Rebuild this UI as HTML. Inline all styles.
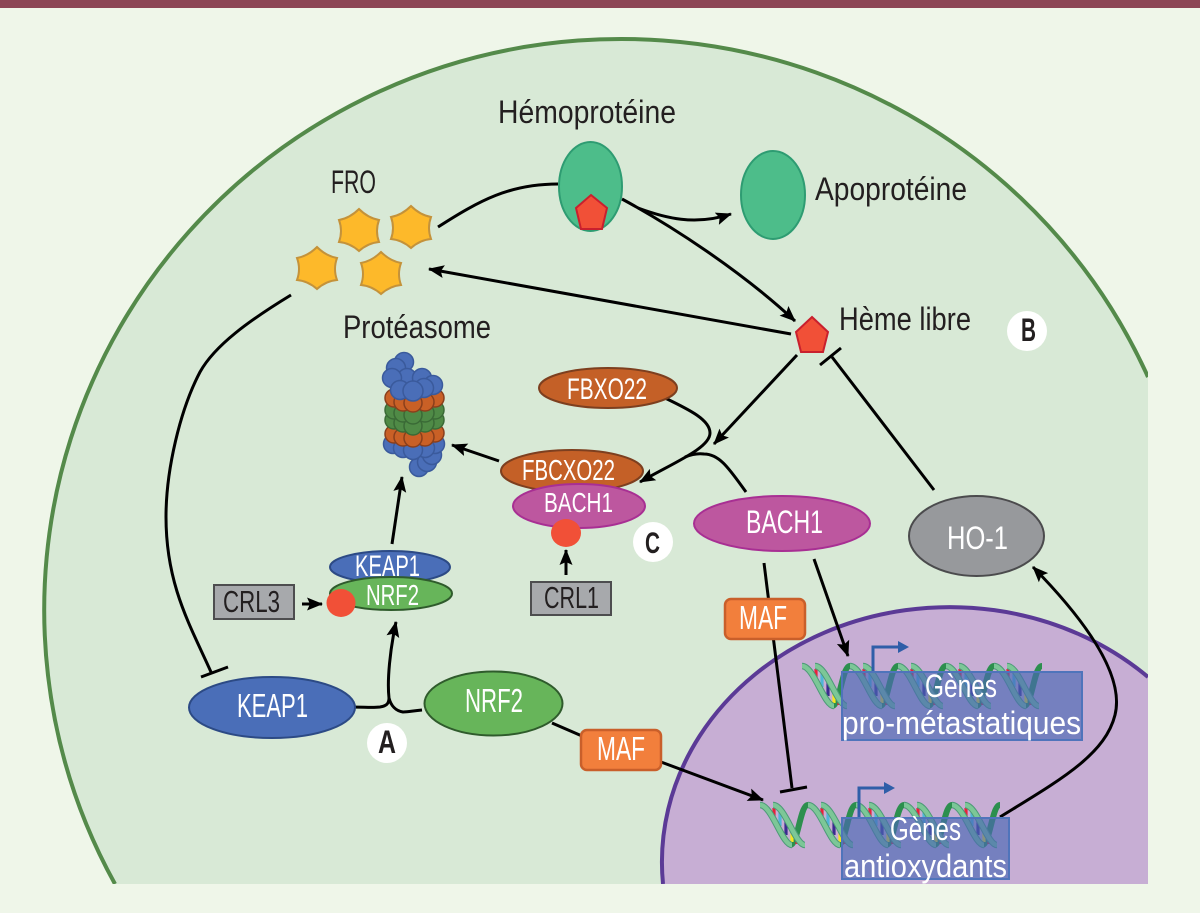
<!DOCTYPE html>
<html lang="fr">
<head>
<meta charset="utf-8">
<title>Hème, NRF2 et BACH1</title>
<style>
html,body{margin:0;padding:0;background:#eff6e9;width:1200px;height:913px;overflow:hidden;}
svg{display:block;overflow:hidden;}
text{font-family:"Liberation Sans",sans-serif;}
.l{font-size:32px;fill:#231f20;}
.w{fill:#fff;}
.b{font-weight:bold;fill:#231f20;font-size:32px;}
.c{fill:none;stroke:#000;stroke-width:3;}
</style>
</head>
<body>
<svg width="1200" height="913" viewBox="0 0 1200 913" xmlns="http://www.w3.org/2000/svg">
<defs>
<clipPath id="clip"><rect x="0" y="0" width="1148" height="884"/></clipPath>
<marker id="ar" markerUnits="userSpaceOnUse" markerWidth="17" markerHeight="15" viewBox="0 0 17 15" refX="15" refY="7.5" orient="auto">
<path d="M0 1 L16 7.5 L0 14 L3 7.5Z" fill="#000"/>
</marker>
<path id="star" d="M0 -21 Q9 -12 20 -10 Q16 1 20 12 Q9 13 0 21 Q-9 13 -20 12 Q-16 1 -20 -10 Q-9 -12 0 -21Z" fill="#fdb92a" stroke="#c4923a" stroke-width="2"/>
<g id="unit">
<path d="M30 40 C38 40 40 0 48 0" fill="none" stroke="#2c8f4e" stroke-width="6"/>
<g stroke-width="3.2">
<line x1="14" y1="3" x2="14" y2="12" stroke="#e8213a"/>
<line x1="20" y1="5" x2="20" y2="21" stroke="#4fb6d8"/>
<line x1="26" y1="11" x2="26" y2="30" stroke="#3b2c8f"/>
<line x1="32" y1="20" x2="32" y2="37" stroke="#f6e620"/>
<line x1="37" y1="31" x2="37" y2="39" stroke="#e8213a"/>
</g>
<path d="M0 0 C12 0 22 40 32 40" fill="none" stroke="#4d9a78" stroke-width="6.5"/>
<path d="M0 0 C12 0 22 40 32 40" fill="none" stroke="#7cc797" stroke-width="4.5"/>
<path d="M13 0 C25 0 35 40 45 40" fill="none" stroke="#4d9a78" stroke-width="6.5"/>
<path d="M13 0 C25 0 35 40 45 40" fill="none" stroke="#7cc797" stroke-width="4.5"/>
</g>
</defs>

<rect width="1200" height="913" fill="#eff6e9"/>
<rect width="1200" height="8" fill="#8c4655"/>

<g clip-path="url(#clip)">
<path d="M115 884 A577 571 0 1 1 1148 377 V884 Z" fill="#d8e9d6"/>
<path d="M115 884 A577 571 0 1 1 1148 377" fill="none" stroke="#548a4a" stroke-width="4"/>
<path d="M663 884 A288 255 0 0 1 1148 677 V884 Z" fill="#c7aed4"/>
<path d="M663 884 A288 255 0 0 1 1148 677" fill="none" stroke="#5b3a96" stroke-width="4"/>
</g>

<!-- connectors -->
<path class="c" d="M438 227 C480 200 510 184 558 184"/>
<path class="c" d="M622 199 C670 225 740 270 795 321" marker-end="url(#ar)"/>
<path class="c" d="M638 208 C665 218 695 226 731 214" marker-end="url(#ar)"/>
<path class="c" d="M791 334 L429 269" marker-end="url(#ar)"/>
<path class="c" d="M291 295 C250 320 215 345 200 372 C180 410 166 470 166 517 C166 585 190 625 211 672"/>
<path class="c" d="M201 677 L228 667"/>
<path class="c" d="M797 355 L714 444" marker-end="url(#ar)"/>
<path class="c" d="M665 398 C690 410 710 420 710 433 C710 448 675 462 640 482" marker-end="url(#ar)"/>
<path class="c" d="M746 492 C730 470 720 454 704 454 C697 453 690 455 685 457"/>
<path class="c" d="M934 490 L832 357"/>
<path class="c" d="M820 365 L841 348"/>
<path class="c" d="M814 559 L848 656" marker-end="url(#ar)"/>
<path class="c" d="M764 563 L792 788"/>
<path class="c" d="M780 792 L807 787"/>
<path class="c" d="M499 461 L452 445" marker-end="url(#ar)"/>
<path class="c" d="M392 544 L402 477" marker-end="url(#ar)"/>
<path class="c" d="M566 575 L566 550" marker-end="url(#ar)"/>
<path class="c" d="M302 604 L322 604" marker-end="url(#ar)"/>
<path class="c" d="M352 707 C365 707 372 708 380 707 C386 706 389 704 389 698 C387 680 390 650 396 622" marker-end="url(#ar)"/>
<path class="c" d="M422 710 C412 711 408 712 403 712 C396 711 391 706 389 698"/>
<path class="c" d="M552 723 L582 736"/>
<path class="c" d="M661 762 L763 800" marker-end="url(#ar)"/>
<path class="c" d="M1000 817 C1060 780 1105 755 1115 715 C1125 675 1085 620 1033 567" marker-end="url(#ar)"/>

<!-- hémoprotéine -->
<ellipse cx="590.5" cy="186.5" rx="31.5" ry="44.5" fill="#4dbd8a" stroke="#2e9c72" stroke-width="2"/>
<polygon points="591,195 607,208 602,229 581,229 576,208" fill="#f15037" stroke="#c9202e" stroke-width="2"/>
<ellipse cx="773" cy="195" rx="32" ry="44" fill="#4dbd8a" stroke="#2e9c72" stroke-width="2"/>
<polygon points="812,317 828,332 823,352 801,352 796,332" fill="#f15037" stroke="#c9202e" stroke-width="2"/>

<!-- FRO -->
<use href="#star" x="359" y="230"/>
<use href="#star" x="411" y="227"/>
<use href="#star" x="317" y="268"/>
<use href="#star" x="381" y="273"/>

<!-- proteasome -->
<g fill="#4a6eb8" stroke="#3a5a9c" stroke-width="1.5">
<circle cx="419" cy="467" r="9.5"/><circle cx="427" cy="462" r="9.5"/><circle cx="432" cy="455" r="9.5"/>
<circle cx="393" cy="444" r="9.5"/><circle cx="435" cy="444" r="9.5"/><circle cx="403" cy="448" r="9.5"/><circle cx="425" cy="448" r="9.5"/><circle cx="413" cy="450" r="9.5"/>
</g>
<g fill="#c96026" stroke="#8a3f1c" stroke-width="1.5">
<circle cx="394" cy="434" r="9"/><circle cx="435" cy="433" r="9"/><circle cx="403" cy="437" r="9"/><circle cx="425" cy="437" r="9"/><circle cx="413" cy="438" r="9"/>
</g>
<g fill="#4f8a46" stroke="#3a6a36" stroke-width="1.5">
<circle cx="394" cy="420" r="9"/><circle cx="435" cy="420" r="9"/><circle cx="403" cy="423" r="9"/><circle cx="425" cy="423" r="9"/><circle cx="413" cy="426" r="9"/>
<circle cx="394" cy="410" r="9"/><circle cx="435" cy="410" r="9"/><circle cx="403" cy="413" r="9"/><circle cx="425" cy="413" r="9"/><circle cx="413" cy="415" r="9"/>
</g>
<g fill="#c96026" stroke="#8a3f1c" stroke-width="1.5">
<circle cx="394" cy="398" r="9"/><circle cx="435" cy="398" r="9"/><circle cx="403" cy="402" r="9"/><circle cx="425" cy="402" r="9"/><circle cx="413" cy="403" r="9"/>
</g>
<g fill="#4a6eb8" stroke="#3a5a9c" stroke-width="1.5">
<circle cx="404" cy="362" r="9.5"/><circle cx="396" cy="368" r="9.5"/><circle cx="407" cy="378" r="9.5"/><circle cx="392" cy="378" r="9.5"/>
<circle cx="422" cy="378" r="9.5"/><circle cx="433" cy="385" r="9.5"/><circle cx="424" cy="388" r="9.5"/><circle cx="400" cy="390" r="9.5"/><circle cx="413" cy="391" r="10"/>
</g>

<!-- DNA -->
<g>
<use href="#unit" x="802" y="666"/><use href="#unit" x="850" y="666"/><use href="#unit" x="898" y="666"/><use href="#unit" x="946" y="666"/><use href="#unit" x="994" y="666"/>
<use href="#unit" x="760" y="805"/><use href="#unit" x="808" y="805"/><use href="#unit" x="856" y="805"/><use href="#unit" x="904" y="805"/><use href="#unit" x="952" y="805"/>
</g>
<path d="M873 673 V647 H898" fill="none" stroke="#2f5ea8" stroke-width="3"/>
<polygon points="898,641 909,647 898,653" fill="#2f5ea8"/>
<path d="M859 817 V788 H884" fill="none" stroke="#2f5ea8" stroke-width="3"/>
<polygon points="884,782 895,788 884,794" fill="#2f5ea8"/>
<rect x="842" y="672" width="240" height="68" fill="rgba(73,103,180,.65)" stroke="#4f74bb" stroke-width="2"/>
<rect x="842" y="818" width="167" height="61" fill="rgba(73,103,180,.65)" stroke="#4f74bb" stroke-width="2"/>

<!-- nodes -->
<ellipse cx="608" cy="388" rx="69" ry="20" fill="#c46027" stroke="#7d3f1f" stroke-width="2"/>
<ellipse cx="572" cy="471" rx="71" ry="21" fill="#c46027" stroke="#7d3f1f" stroke-width="2"/>
<ellipse cx="579" cy="506" rx="66" ry="22" fill="#bd579f" stroke="#a82f93" stroke-width="2"/>
<ellipse cx="566" cy="533" rx="15" ry="14" fill="#f15037"/>
<ellipse cx="390" cy="567" rx="60" ry="16" fill="#4a6eb8" stroke="#2c4a85" stroke-width="2"/>
<ellipse cx="391" cy="593.5" rx="61" ry="16.5" fill="#67b55a" stroke="#2f5b2c" stroke-width="2"/>
<ellipse cx="341" cy="603" rx="14.5" ry="14" fill="#f15037"/>
<rect x="531" y="582" width="80" height="33" fill="#a7a9ac" stroke="#4d4d4f" stroke-width="2"/>
<rect x="214" y="585" width="80" height="34" fill="#a7a9ac" stroke="#4d4d4f" stroke-width="2"/>
<ellipse cx="272" cy="707.5" rx="83" ry="30.5" fill="#4a6eb8" stroke="#2c4a85" stroke-width="2"/>
<ellipse cx="493.5" cy="703.5" rx="69" ry="32" fill="#67b55a" stroke="#2f5b2c" stroke-width="2"/>
<rect x="581" y="730" width="80" height="40" rx="6" fill="#f27f3c" stroke="#c95f2a" stroke-width="2.5"/>
<rect x="725" y="599" width="80" height="40" rx="6" fill="#f27f3c" stroke="#c95f2a" stroke-width="2.5"/>
<ellipse cx="782" cy="523.5" rx="88" ry="27.5" fill="#bd579f" stroke="#a82f93" stroke-width="2"/>
<ellipse cx="976.5" cy="536" rx="67.5" ry="40" fill="#97999c" stroke="#4b4b4d" stroke-width="2"/>

<!-- badges -->
<circle cx="387" cy="743" r="20" fill="#fff"/>
<circle cx="653" cy="542" r="20" fill="#fff"/>
<circle cx="1027" cy="331" r="20" fill="#fff"/>
<text class="b" x="378" y="753" textLength="18" lengthAdjust="spacingAndGlyphs">A</text>
<text class="b" x="645" y="553" textLength="15" lengthAdjust="spacingAndGlyphs" style="font-size:30px">C</text>
<text class="b" x="1021" y="341" textLength="15" lengthAdjust="spacingAndGlyphs">B</text>

<!-- labels -->
<text class="l" x="498" y="123" textLength="178" lengthAdjust="spacingAndGlyphs">Hémoprotéine</text>
<text class="l" x="331" y="193" textLength="45" lengthAdjust="spacingAndGlyphs">FRO</text>
<text class="l" x="343" y="338" textLength="148" lengthAdjust="spacingAndGlyphs">Protéasome</text>
<text class="l" x="815" y="200" textLength="152" lengthAdjust="spacingAndGlyphs">Apoprotéine</text>
<text class="l" x="839" y="330" textLength="132" lengthAdjust="spacingAndGlyphs">Hème libre</text>

<text class="w" style="font-size:30px" x="567" y="399" textLength="80" lengthAdjust="spacingAndGlyphs">FBXO22</text>
<text class="w" style="font-size:29px" x="522" y="480" textLength="93" lengthAdjust="spacingAndGlyphs">FBCXO22</text>
<text class="w" style="font-size:28px" x="544" y="512" textLength="69" lengthAdjust="spacingAndGlyphs">BACH1</text>
<text class="w" style="font-size:30px" x="355" y="576" textLength="65" lengthAdjust="spacingAndGlyphs">KEAP1</text>
<text class="w" style="font-size:29px" x="366" y="605" textLength="53" lengthAdjust="spacingAndGlyphs">NRF2</text>
<text style="font-size:31px;fill:#231f20" x="544" y="608" textLength="55" lengthAdjust="spacingAndGlyphs">CRL1</text>
<text style="font-size:31px;fill:#231f20" x="223" y="612" textLength="57" lengthAdjust="spacingAndGlyphs">CRL3</text>
<text class="w" style="font-size:33px" x="237" y="717" textLength="71" lengthAdjust="spacingAndGlyphs">KEAP1</text>
<text class="w" style="font-size:33px" x="465" y="712" textLength="58" lengthAdjust="spacingAndGlyphs">NRF2</text>
<text class="w" style="font-size:33px" x="597" y="760" textLength="48" lengthAdjust="spacingAndGlyphs">MAF</text>
<text class="w" style="font-size:33px" x="739" y="629" textLength="48" lengthAdjust="spacingAndGlyphs">MAF</text>
<text class="w" style="font-size:32px" x="746" y="533" textLength="77" lengthAdjust="spacingAndGlyphs">BACH1</text>
<text class="w" style="font-size:32px" x="947" y="549" textLength="61" lengthAdjust="spacingAndGlyphs">HO-1</text>
<text class="w" style="font-size:32px" x="925" y="697" textLength="72" lengthAdjust="spacingAndGlyphs">Gènes</text>
<text class="w" style="font-size:32px" x="842" y="734" textLength="239" lengthAdjust="spacingAndGlyphs">pro-métastatiques</text>
<text class="w" style="font-size:32px" x="890" y="840" textLength="71" lengthAdjust="spacingAndGlyphs">Gènes</text>
<text class="w" style="font-size:32px" x="844" y="877" textLength="163" lengthAdjust="spacingAndGlyphs">antioxydants</text>
</svg>
</body>
</html>
